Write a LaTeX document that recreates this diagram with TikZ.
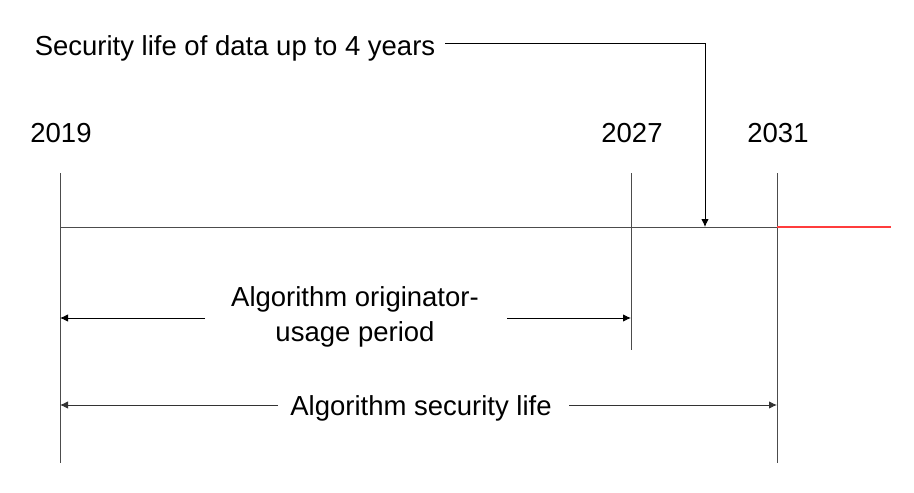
\documentclass[tikz,border=0pt]{standalone}
\usepackage{fontspec}
\setmainfont{Liberation Sans}
\usetikzlibrary{arrows.meta}
\definecolor{lred}{RGB}{255,60,60}
\begin{document}
\begin{tikzpicture}[x=1pt,y=-1pt,
  lbl/.style={inner sep=0pt,font=\fontsize{27.5}{33}\selectfont,text=black},
  ln/.style={draw=black!70,line width=0.9pt},
  tip/.style={-{Latex[length=8pt,width=7.5pt]}}]
\useasboundingbox (0,0) rectangle (914,493);
% year labels
\node[lbl] (y2019) at (61,133) {2019};
\node[lbl] (y2027) at (632,133) {2027};
\node[lbl] (y2031) at (778,133) {2031};
% vertical markers
\coordinate (a1) at (60,173); \coordinate (a2) at (60,463);
\coordinate (b1) at (631,173); \coordinate (b2) at (631,350);
\coordinate (c1) at (777,173); \coordinate (c2) at (777,463);
\draw[ln] (a1) -- (a2);
\draw[ln] (b1) -- (b2);
\draw[ln] (c1) -- (c2);
% main line
\coordinate (m0) at (60,227); \coordinate (m1) at (777,227); \coordinate (m2) at (891,227);
\draw[ln] (m0) -- (m1);
\draw[lred,line width=1.1pt] (m1) -- (m2);
% top label and pointer
\node[lbl] (sec) at (235,48) {Security life of data up to 4 years};
\coordinate (p0) at (445,43);
\coordinate (p1) at (705,43);
\coordinate (p2) at (705,227);
\draw[ln,draw=black,tip] (p0) -- (p1) -- (p2);
% originator usage period
\node[lbl,align=center,font=\fontsize{27.5}{35}\selectfont] (orig) at (355,317) {Algorithm originator-\\usage period};
\coordinate (o1) at (205,318); \coordinate (o2) at (507,318);
\coordinate (oL) at (60,318); \coordinate (oR) at (631,318);
\draw[ln,draw=black,tip] (o1) -- (oL);
\draw[ln,draw=black,tip] (o2) -- (oR);
% security life
\node[lbl] (life) at (421,408) {Algorithm security life};
\coordinate (s1) at (278,405); \coordinate (s2) at (569,405);
\coordinate (sL) at (60,405); \coordinate (sR) at (777,405);
\draw[ln,draw=black!80,tip] (s1) -- (sL);
\draw[ln,draw=black!80,tip] (s2) -- (sR);
\end{tikzpicture}
\end{document}
